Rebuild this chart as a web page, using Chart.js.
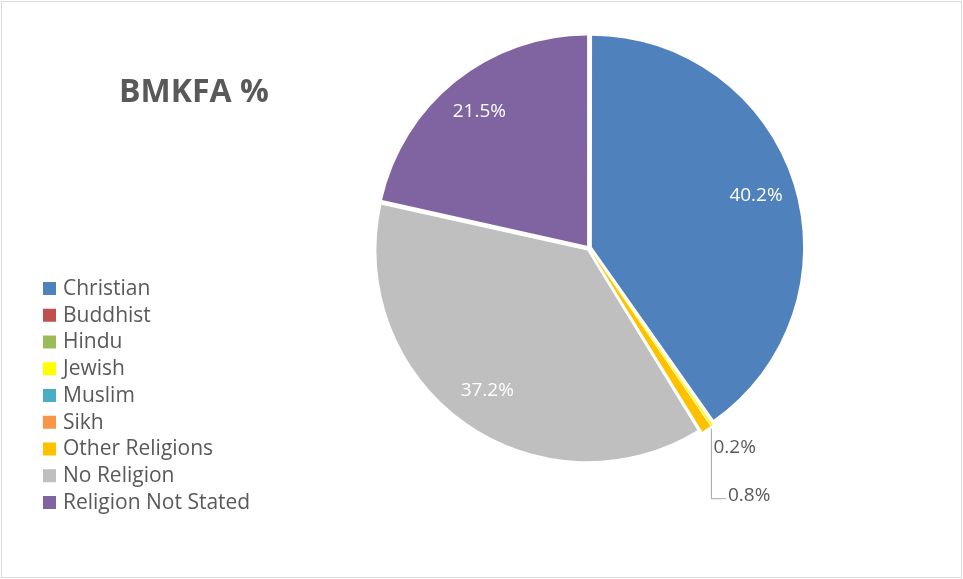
<!DOCTYPE html>
<html>
<head>
<meta charset="utf-8">
<title>BMKFA %</title>
<script src="https://cdn.jsdelivr.net/npm/chart.js@4.4.1/dist/chart.umd.min.js"></script>
<style>
  html, body { margin: 0; padding: 0; background: #ffffff; }
  #wrap { position: relative; width: 963px; height: 579px; }
</style>
</head>
<body>
<div id="wrap"><canvas id="religionChart" width="963" height="579"></canvas></div>
<script>
// Chart data - BMKFA religion breakdown
const categories = ['Christian', 'Buddhist', 'Hindu', 'Jewish', 'Muslim', 'Sikh', 'Other Religions', 'No Religion', 'Religion Not Stated'];
const percentValues = [40.2, 0, 0, 0.2, 0, 0, 0.8, 37.2, 21.5];
const sliceColors = ['#4F81BD', '#C0504D', '#9BBB59', '#FFFF00', '#4BACC6', '#F79646', '#FFC000', '#BFBFBF', '#8064A2'];
const chartTitle = 'BMKFA %';

const textColor = '#595959';
const fontFamily = "'Open Sans', 'Noto Sans', sans-serif";
// Chart.js draws arcs shifted by offset / 4
const sliceOffset = 12;

// Draws title, legend, data labels and the frame
const decorPlugin = {
  id: 'decor',
  afterDraw(chart) {
    const ctx = chart.ctx;
    const meta = chart.getDatasetMeta(0);
    const shift = sliceOffset / 4;
    ctx.save();

    // Frame
    ctx.strokeStyle = '#d9d9d9';
    ctx.lineWidth = 1;
    ctx.strokeRect(1.5, 1.5, chart.width - 3, chart.height - 3);

    // Title
    ctx.fillStyle = textColor;
    ctx.font = 'bold 32px ' + fontFamily;
    ctx.textAlign = 'left';
    ctx.textBaseline = 'middle';
    ctx.fillText(chartTitle, 119, 93);

    // Legend
    ctx.font = '21px ' + fontFamily;
    categories.forEach((name, i) => {
      const y = 288 + i * 26.75;
      ctx.fillStyle = sliceColors[i];
      ctx.fillRect(43, y - 6, 13, 13);
      ctx.fillStyle = textColor;
      ctx.fillText(name, 63, y + 1);
    });

    // Data labels
    ctx.font = '19px ' + fontFamily;
    let smallCount = 0;
    meta.data.forEach((arc, i) => {
      const v = percentValues[i];
      if (!v) return;
      const p = arc.getProps(['x', 'y', 'startAngle', 'endAngle', 'outerRadius'], true);
      const mid = (p.startAngle + p.endAngle) / 2;
      const cx = p.x + Math.cos(mid) * shift;
      const cy = p.y + Math.sin(mid) * shift;
      const text = v.toFixed(1) + '%';
      if (v >= 5) {
        const r = p.outerRadius * 0.82;
        ctx.fillStyle = '#ffffff';
        ctx.textAlign = 'center';
        ctx.fillText(text, cx + Math.cos(mid) * r, cy + Math.sin(mid) * r);
      } else {
        const ox = cx + Math.cos(mid) * p.outerRadius;
        const oy = cy + Math.sin(mid) * p.outerRadius;
        ctx.fillStyle = textColor;
        ctx.textAlign = 'left';
        if (smallCount === 0) {
          ctx.fillText(text, ox + 3, oy + 25);
        } else {
          // leader line down and across to the label
          ctx.strokeStyle = '#a6a6a6';
          ctx.beginPath();
          ctx.moveTo(ox + 6.5, oy + 2);
          ctx.lineTo(ox + 6.5, oy + 72);
          ctx.lineTo(ox + 21, oy + 72);
          ctx.stroke();
          ctx.fillText(text, ox + 23, oy + 69);
        }
        smallCount++;
      }
    });
    ctx.restore();
  }
};

const ctx = document.getElementById('religionChart');
new Chart(ctx.getContext('2d'), {
  type: 'pie',
  data: {
    labels: categories,
    datasets: [{
      data: percentValues,
      backgroundColor: sliceColors,
      borderWidth: 0,
      offset: sliceOffset
    }]
  },
  options: {
    responsive: false,
    animation: false,
    radius: 210,
    layout: { padding: { left: 215, right: 0, top: 0, bottom: 83 } },
    plugins: {
      legend: { display: false },
      tooltip: { enabled: false }
    }
  },
  plugins: [decorPlugin]
});
</script>
</body>
</html>
